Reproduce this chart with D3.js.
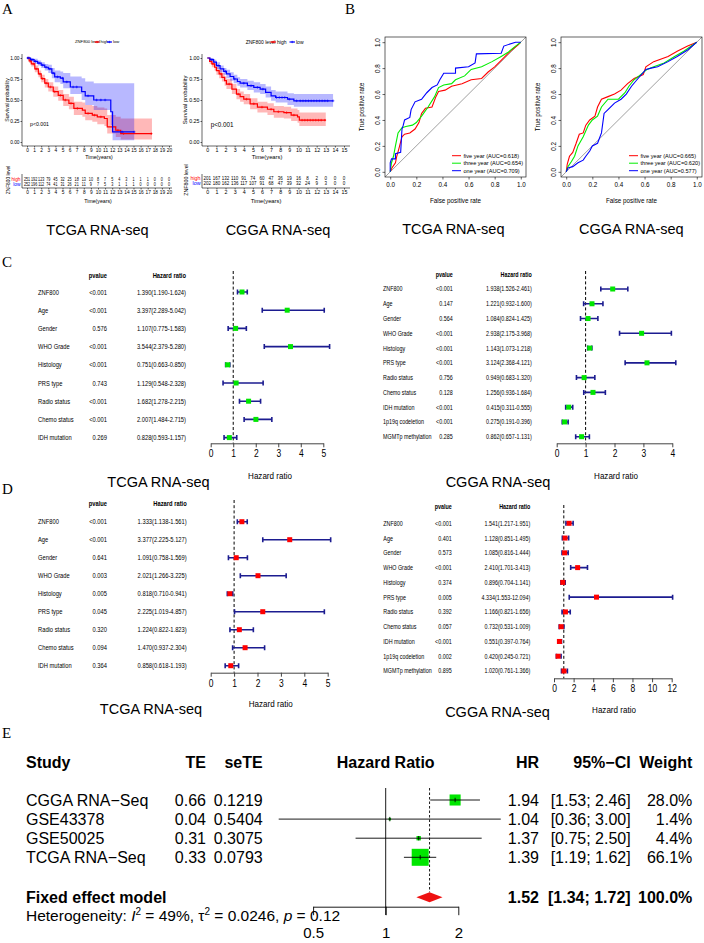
<!DOCTYPE html>
<html>
<head>
<meta charset="utf-8">
<script src="https://cdn.jsdelivr.net/npm/d3@7"></script>
<style>
  body { margin: 0; background: #fff; }
  svg { display: block; font-family: "Liberation Sans", Arial, sans-serif; }
  .serif { font-family: "Liberation Serif", "Times New Roman", serif; }
</style>
</head>
<body>
<svg id="fig" width="704" height="943"></svg>
<script>
// ---- Panel A: Kaplan-Meier steps [time, surv, lower, upper] ----
var TCGA_HIGH = [
  [0, 1, 1, 1], [0.3, 0.965, 0.94, 0.99], [0.6, 0.93, 0.90, 0.96], [1.1, 0.87, 0.83, 0.91],
  [1.6, 0.81, 0.77, 0.85], [2, 0.755, 0.71, 0.80], [2.5, 0.70, 0.65, 0.75], [3, 0.655, 0.60, 0.71],
  [3.7, 0.60, 0.54, 0.66], [4.4, 0.555, 0.49, 0.62], [5.1, 0.50, 0.43, 0.57], [5.9, 0.46, 0.39, 0.54],
  [6.6, 0.40, 0.32, 0.48], [7.8, 0.38, 0.30, 0.47], [8.2, 0.34, 0.26, 0.44], [9.2, 0.32, 0.24, 0.43],
  [9.9, 0.30, 0.21, 0.41], [10.9, 0.28, 0.19, 0.40], [11.3, 0.18, 0.10, 0.32], [12.5, 0.14, 0.06, 0.30],
  [13.2, 0.10, 0.03, 0.28]
];
var TCGA_HIGH_END = 17.6;
var TCGA_HIGH_CENSOR = [0.2, 0.5, 0.9, 1.3, 1.8, 2.2, 2.7, 3.3, 3.9, 4.7, 5.4, 6.2, 7.1, 8.6, 9.5, 10.4, 12.8, 13.6, 17.5];

var TCGA_LOW = [
  [0, 1, 1, 1], [0.5, 0.98, 0.96, 1.0], [1, 0.96, 0.93, 0.99], [1.5, 0.94, 0.91, 0.97],
  [2, 0.915, 0.88, 0.95], [2.5, 0.89, 0.85, 0.93], [3, 0.87, 0.82, 0.92], [3.5, 0.82, 0.76, 0.88],
  [3.9, 0.775, 0.71, 0.85], [4.7, 0.76, 0.69, 0.84], [5.1, 0.715, 0.64, 0.82], [6.1, 0.655, 0.57, 0.78],
  [7.7, 0.60, 0.50, 0.76], [8.2, 0.55, 0.44, 0.72], [9.4, 0.50, 0.38, 0.70], [11.8, 0.36, 0.20, 0.70],
  [12.05, 0.12, 0.02, 0.70]
];
var TCGA_LOW_END = 15.1;
var TCGA_LOW_CENSOR = [0.1, 0.3, 0.7, 1.2, 1.7, 2.2, 2.7, 3.2, 3.7, 4.3, 5.0, 5.6, 6.5, 7.0, 8.6, 9.8, 10.4, 11.0, 13.4, 15.1];

var CGGA_HIGH = [
  [0, 1, 1, 1], [0.25, 0.96, 0.93, 0.99], [0.5, 0.93, 0.89, 0.96], [0.8, 0.89, 0.85, 0.93],
  [1, 0.85, 0.80, 0.89], [1.3, 0.81, 0.76, 0.86], [1.6, 0.77, 0.72, 0.82], [1.9, 0.73, 0.67, 0.78],
  [2.1, 0.69, 0.63, 0.75], [2.7, 0.63, 0.57, 0.69], [3.2, 0.57, 0.51, 0.63], [3.6, 0.54, 0.48, 0.60],
  [4, 0.51, 0.45, 0.57], [4.7, 0.455, 0.39, 0.52], [5.5, 0.415, 0.35, 0.48], [6.6, 0.39, 0.32, 0.46],
  [7.3, 0.36, 0.29, 0.43], [8.4, 0.35, 0.28, 0.42], [9.2, 0.32, 0.25, 0.40], [9.9, 0.30, 0.23, 0.38],
  [10.1, 0.26, 0.19, 0.35]
];
var CGGA_HIGH_END = 13;
var CGGA_HIGH_CENSOR = [0.6, 1.5, 2.4, 3.4, 4.3, 5.1, 6.0, 7.0, 7.8, 8.7, 9.5, 10.4, 10.7, 11.0, 11.3, 11.6, 11.9, 12.2, 12.5, 12.9];

var CGGA_LOW = [
  [0, 1, 1, 1], [0.3, 0.98, 0.96, 1.0], [0.7, 0.95, 0.92, 0.98], [1, 0.91, 0.87, 0.95],
  [1.4, 0.87, 0.83, 0.91], [1.8, 0.84, 0.80, 0.88], [2.1, 0.81, 0.76, 0.86], [2.5, 0.78, 0.73, 0.83],
  [2.9, 0.75, 0.70, 0.80], [3.3, 0.72, 0.67, 0.77], [3.6, 0.70, 0.65, 0.75], [4.4, 0.67, 0.62, 0.73],
  [5.1, 0.65, 0.59, 0.71], [5.8, 0.63, 0.57, 0.69], [6.4, 0.59, 0.53, 0.66], [7, 0.55, 0.49, 0.62],
  [7.5, 0.53, 0.47, 0.60], [8.8, 0.51, 0.44, 0.58], [9.5, 0.49, 0.42, 0.57]
];
var CGGA_LOW_END = 13.8;
var CGGA_LOW_CENSOR = [0.5, 1.2, 2.0, 3.0, 4.0, 4.8, 5.5, 6.1, 7.6, 7.9, 8.2, 8.5, 9.0, 9.8, 10.2, 10.5, 10.8,
  11.1, 11.4, 11.7, 12.0, 12.3, 12.6, 12.9, 13.2, 13.8];

// Number at risk per year
var TCGA_RISK_HIGH = [251, 192, 123, 79, 45, 32, 25, 18, 13, 10, 8, 7, 5, 4, 3, 1, 1, 1, 0, 0, 0];
var TCGA_RISK_LOW = [252, 196, 112, 74, 41, 31, 26, 21, 11, 9, 7, 5, 3, 1, 1, 1, 0, 0, 0, 0, 0];
var CGGA_RISK_HIGH = [201, 167, 132, 110, 91, 74, 60, 47, 36, 19, 16, 8, 2, 0, 0, 0];
var CGGA_RISK_LOW = [202, 180, 162, 136, 117, 107, 91, 68, 47, 39, 32, 24, 9, 3, 0, 0];
var KM_YTICKS = [0, 0.25, 0.5, 0.75, 1];

// ---- Panel B: ROC curves [fpr, tpr] ----
var ROC_TCGA_FIVE = [[0, 0], [0.013, 0.03], [0.04, 0.07], [0.05, 0.12], [0.064, 0.17], [0.09, 0.27], [0.11, 0.29],
  [0.15, 0.3], [0.19, 0.33], [0.22, 0.38], [0.24, 0.45], [0.27, 0.49], [0.32, 0.5], [0.35, 0.58], [0.37, 0.62],
  [0.42, 0.63], [0.47, 0.66], [0.55, 0.68], [0.62, 0.71], [0.7, 0.72], [0.75, 0.77], [0.8, 0.81], [0.85, 0.86],
  [0.93, 0.94], [0.98, 0.98], [1, 1]];
var ROC_TCGA_THREE = [[0, 0], [0.01, 0.07], [0.025, 0.12], [0.04, 0.2], [0.06, 0.3], [0.09, 0.34], [0.12, 0.35],
  [0.17, 0.36], [0.2, 0.38], [0.24, 0.43], [0.29, 0.5], [0.34, 0.58], [0.37, 0.65], [0.41, 0.67], [0.47, 0.68],
  [0.5, 0.71], [0.57, 0.74], [0.62, 0.79], [0.7, 0.81], [0.78, 0.85], [0.85, 0.89], [0.9, 0.92], [0.96, 0.97], [1, 1]];
var ROC_TCGA_ONE = [[0, 0], [0, 0.07], [0.01, 0.1], [0.04, 0.1], [0.04, 0.14], [0.08, 0.15], [0.09, 0.33],
  [0.1, 0.36], [0.11, 0.4], [0.15, 0.42], [0.16, 0.48], [0.19, 0.54], [0.24, 0.56], [0.28, 0.61], [0.32, 0.65],
  [0.36, 0.67], [0.38, 0.71], [0.41, 0.76], [0.5, 0.76], [0.5, 0.8], [0.6, 0.81], [0.65, 0.84], [0.66, 0.91],
  [0.85, 0.915], [0.87, 0.97], [0.96, 1.0], [1, 1]];
var ROC_CGGA_FIVE = [[0, 0], [0.008, 0.06], [0.025, 0.12], [0.05, 0.15], [0.076, 0.22], [0.1, 0.29], [0.13, 0.3],
  [0.15, 0.36], [0.18, 0.4], [0.22, 0.43], [0.24, 0.5], [0.27, 0.56], [0.32, 0.58], [0.37, 0.6], [0.42, 0.63],
  [0.47, 0.68], [0.52, 0.72], [0.59, 0.75], [0.61, 0.81], [0.67, 0.85], [0.78, 0.89], [0.85, 0.93], [0.93, 0.97], [1, 1]];
var ROC_CGGA_THREE = [[0, 0], [0.013, 0.04], [0.04, 0.08], [0.064, 0.12], [0.09, 0.2], [0.13, 0.27], [0.17, 0.36],
  [0.2, 0.4], [0.24, 0.43], [0.27, 0.5], [0.32, 0.56], [0.4, 0.56], [0.45, 0.61], [0.48, 0.66], [0.52, 0.71],
  [0.57, 0.75], [0.62, 0.79], [0.67, 0.81], [0.75, 0.84], [0.83, 0.89], [0.9, 0.93], [1, 1]];
var ROC_CGGA_ONE = [[0, 0], [0.013, 0.03], [0.05, 0.04], [0.09, 0.07], [0.13, 0.09], [0.15, 0.12], [0.18, 0.16],
  [0.2, 0.2], [0.24, 0.22], [0.27, 0.3], [0.29, 0.45], [0.32, 0.48], [0.37, 0.53], [0.42, 0.56], [0.46, 0.6],
  [0.5, 0.66], [0.55, 0.72], [0.61, 0.79], [0.65, 0.8], [0.7, 0.81], [0.78, 0.85], [0.85, 0.89], [0.93, 0.94], [1, 1]];
var ROC_LABELS_TCGA = ['five year (AUC=0.618)', 'three year (AUC=0.654)', 'one year (AUC=0.709)'];
var ROC_LABELS_CGGA = ['five year (AUC=0.665)', 'three year (AUC=0.620)', 'one year (AUC=0.577)'];
var ROC_TICKS = [0, 0.2, 0.4, 0.6, 0.8, 1];

// ---- Panels C/D: Cox regression ----
var VARS_TCGA = ['ZNF800', 'Age', 'Gender', 'WHO Grade', 'Histology', 'PRS type', 'Radio status', 'Chemo status', 'IDH mutation'];
var VARS_CGGA = ['ZNF800', 'Age', 'Gender', 'WHO Grade', 'Histology', 'PRS type', 'Radio status', 'Chemo status',
  'IDH mutation', '1p19q codeletion', 'MGMTp methylation'];

var UNI_TCGA_P = ['<0.001', '<0.001', '0.576', '<0.001', '<0.001', '0.743', '<0.001', '<0.001', '0.269'];
var UNI_TCGA_HR = [1.390, 3.397, 1.107, 3.544, 0.751, 1.129, 1.682, 2.007, 0.828];
var UNI_TCGA_LO = [1.190, 2.289, 0.775, 2.379, 0.663, 0.548, 1.278, 1.484, 0.593];
var UNI_TCGA_HI = [1.624, 5.042, 1.583, 5.280, 0.850, 2.328, 2.215, 2.715, 1.157];

var UNI_CGGA_P = ['<0.001', '0.147', '0.564', '<0.001', '<0.001', '<0.001', '0.756', '0.128', '<0.001', '<0.001', '0.285'];
var UNI_CGGA_HR = [1.938, 1.221, 1.084, 2.938, 1.143, 3.124, 0.949, 1.256, 0.415, 0.275, 0.862];
var UNI_CGGA_LO = [1.526, 0.932, 0.824, 2.175, 1.073, 2.368, 0.683, 0.936, 0.311, 0.191, 0.657];
var UNI_CGGA_HI = [2.461, 1.600, 1.425, 3.968, 1.218, 4.121, 1.320, 1.684, 0.555, 0.396, 1.131];

var MULTI_TCGA_P = ['<0.001', '<0.001', '0.641', '0.003', '0.005', '0.045', '0.320', '0.094', '0.364'];
var MULTI_TCGA_HR = [1.333, 3.377, 1.091, 2.021, 0.818, 2.225, 1.224, 1.470, 0.858];
var MULTI_TCGA_LO = [1.138, 2.225, 0.758, 1.266, 0.710, 1.019, 0.822, 0.937, 0.618];
var MULTI_TCGA_HI = [1.561, 5.127, 1.569, 3.225, 0.941, 4.857, 1.823, 2.304, 1.193];

var MULTI_CGGA_P = ['<0.001', '0.401', '0.573', '<0.001', '0.374', '0.005', '0.392', '0.057', '<0.001', '0.002', '0.895'];
var MULTI_CGGA_HR = [1.541, 1.128, 1.085, 2.410, 0.896, 4.334, 1.166, 0.732, 0.551, 0.420, 1.020];
var MULTI_CGGA_LO = [1.217, 0.851, 0.816, 1.701, 0.704, 1.553, 0.821, 0.531, 0.397, 0.245, 0.761];
var MULTI_CGGA_HI = [1.951, 1.495, 1.444, 3.413, 1.141, 12.094, 1.656, 1.009, 0.764, 0.721, 1.366];

// ---- Panel E: meta-analysis ----
var META_STUDIES = ['CGGA RNA\u2212Seq', 'GSE43378', 'GSE50025', 'TCGA RNA\u2212Seq'];
var META_TE = ['0.66', '0.04', '0.31', '0.33'];
var META_SETE = ['0.1219', '0.5404', '0.3075', '0.0793'];
var META_HR = [1.94, 1.04, 1.37, 1.39];
var META_LO = [1.53, 0.36, 0.75, 1.19];
var META_HI = [2.46, 3.00, 2.50, 1.62];
var META_WEIGHT = [28.0, 1.4, 4.4, 66.1];
var FIXED = { hr: 1.52, lo: 1.34, hi: 1.72, weight: 100.0 };
var META_TICKS = [0.5, 1, 2];

var RED = '#ff0000', BLUE = '#0000ff', GREEN = '#00e600';
var NARROW = 0.77;

var svg = d3.select('#fig');
svg.append('rect').attr('width', 704).attr('height', 943).attr('fill', '#fff');

/**
 * Text helper: y is the visual centre of the glyphs.
 * o.narrow squeezes the text horizontally around its anchor.
 */
function txt(g, x, y, str, o) {
  o = o || {};
  var t = g.append('text')
    .attr('x', x).attr('y', y)
    .attr('dy', '0.35em')
    .attr('text-anchor', o.anchor || 'start')
    .attr('fill', o.color || '#000')
    .style('font-size', (o.size || 6) + 'px')
    .text(str);
  if (o.weight) t.style('font-weight', o.weight);
  if (o.cls) t.attr('class', o.cls);
  if (o.rotate) t.attr('transform', 'rotate(' + o.rotate + ',' + x + ',' + y + ')');
  if (o.narrow) {
    t.attr('x', 0).attr('y', 0)
      .attr('transform', 'translate(' + x + ',' + y + ') scale(' + o.narrow + ',1)');
  }
  return t;
}

function stepAt(steps, t) {
  var v = steps[0][1];
  steps.forEach(function (s) { if (s[0] <= t) v = s[1]; });
  return v;
}

function styleAxis(sel, size) {
  sel.select('.domain').remove();
  sel.selectAll('text').style('font-size', size + 'px').attr('fill', '#000');
  sel.selectAll('line').attr('stroke', '#000').attr('stroke-width', 0.6);
}

/**
 * Kaplan-Meier panel with band, censor marks, legend and risk table.
 */
function drawKM(o) {
  var g = svg.append('g');
  var x = d3.scaleLinear().domain([0, o.xMax]).range(o.xRange);
  var y = d3.scaleLinear().domain([0, 1]).range([142, 58]);

  var area = d3.area().curve(d3.curveStepAfter)
    .x(function (d) { return x(d[0]); })
    .y0(function (d) { return y(d[2]); })
    .y1(function (d) { return y(d[3]); });
  var line = d3.line().curve(d3.curveStepAfter)
    .x(function (d) { return x(d[0]); })
    .y(function (d) { return y(d[1]); });

  o.curves.forEach(function (c) {
    var last = c.steps[c.steps.length - 1];
    c.pts = c.steps.concat([[c.end, last[1], last[2], last[3]]]);
    g.append('path').datum(c.pts).attr('d', area)
      .attr('fill', c.color).attr('fill-opacity', 0.28);
  });
  o.curves.forEach(function (c) {
    g.append('path').datum(c.pts).attr('d', line)
      .attr('fill', 'none').attr('stroke', c.color).attr('stroke-width', 1.2);
    g.selectAll(null).data(c.censor).enter().append('path')
      .attr('transform', function (t) { return 'translate(' + x(t) + ',' + y(stepAt(c.steps, t)) + ')'; })
      .attr('d', 'M-1.3,0h2.6M0,-1.3v2.6')
      .attr('stroke', c.color).attr('stroke-width', 0.6);
  });

  // axes
  var ax = g.append('g').attr('transform', 'translate(0,146)')
    .call(d3.axisBottom(x).tickValues(d3.range(0, o.xMax + 1)).tickSize(1.5).tickPadding(1));
  styleAxis(ax, o.tick);
  var ay = g.append('g').attr('transform', 'translate(' + o.axisX + ',0)')
    .call(d3.axisLeft(y).tickValues(KM_YTICKS).tickFormat(d3.format('.2f')).tickSize(1.5).tickPadding(1));
  styleAxis(ay, o.tick);
  g.append('path').attr('d', 'M' + o.axisX + ',54V146H' + o.xEnd)
    .attr('fill', 'none').attr('stroke', '#000').attr('stroke-width', 0.6);

  txt(g, o.titleX, 157, 'Time(years)', { anchor: 'middle', size: o.title });
  txt(g, o.ylabX, 100, 'Survival probability', { anchor: 'middle', size: o.title, rotate: -90 });
  txt(g, o.pX, 124.3, 'p<0.001', { size: o.pSize });

  // legend
  var lg = o.legend;
  txt(g, lg.x, 42, 'ZNF800 level', { size: lg.size });
  [[lg.r, 'high', RED], [lg.b, 'low', BLUE]].forEach(function (k) {
    g.append('path').attr('d', 'M' + k[0] + ',42h' + lg.seg)
      .attr('stroke', k[2]).attr('stroke-width', 1.2);
    g.append('path').attr('d', 'M' + (k[0] + lg.seg / 2 - 1.2) + ',42h2.4M' + (k[0] + lg.seg / 2) + ',40.8v2.4')
      .attr('stroke', k[2]).attr('stroke-width', 0.6);
    txt(g, k[0] + lg.seg + 1, 42, k[1], { size: lg.size });
  });

  // risk table
  var rows = [[o.riskHigh, 'high', RED, o.rowY[0]], [o.riskLow, 'low', BLUE, o.rowY[1]]];
  rows.forEach(function (r) {
    r[0].forEach(function (d, i) {
      txt(g, x(i), r[3], d, { anchor: 'middle', size: o.tick, narrow: o.riskSqueeze });
    });
    txt(g, o.axisX - 1.5, r[3], r[1], { anchor: 'end', size: o.tick, color: r[2] });
  });
  var at = g.append('g').attr('transform', 'translate(0,188)')
    .call(d3.axisBottom(x).tickValues(d3.range(0, o.xMax + 1)).tickSize(1.5).tickPadding(1));
  styleAxis(at, o.tick);
  g.append('path').attr('d', 'M' + o.axisX + ',174V188H' + o.xEnd)
    .attr('fill', 'none').attr('stroke', '#000').attr('stroke-width', 0.6);
  txt(g, o.titleX - 1, 201.2, 'Time(years)', { anchor: 'middle', size: o.title });
  txt(g, o.ylabX + 1, 180, 'ZNF800 level', { anchor: 'middle', size: o.tick, rotate: -90 });

  txt(g, o.capX, 229.5, o.caption, { anchor: 'middle', size: 14.5 });
}

/**
 * ROC panel in base-R style (box, rotated y labels, legend without frame).
 */
function drawROC(o) {
  var g = svg.append('g');
  var x = d3.scaleLinear().domain([-0.04, 1.04]).range([o.left, o.right]);
  var y = d3.scaleLinear().domain([-0.04, 1.04]).range([177, 37]);

  g.append('line')
    .attr('x1', x(-0.04)).attr('y1', y(-0.04)).attr('x2', x(1.04)).attr('y2', y(1.04))
    .attr('stroke', '#777').attr('stroke-width', 0.7);

  var line = d3.line().x(function (d) { return x(d[0]); }).y(function (d) { return y(d[1]); });
  var colors = [RED, '#00ee00', BLUE];
  o.curves.forEach(function (c, i) {
    g.append('path').datum(c).attr('d', line)
      .attr('fill', 'none').attr('stroke', colors[i]).attr('stroke-width', 1.1);
  });

  g.append('rect').attr('x', o.left).attr('y', 37)
    .attr('width', o.right - o.left).attr('height', 140)
    .attr('fill', 'none').attr('stroke', '#222').attr('stroke-width', 0.7);

  var ax = g.append('g').attr('transform', 'translate(0,177)')
    .call(d3.axisBottom(x).tickValues(ROC_TICKS).tickFormat(d3.format('.1f')).tickSize(2.5).tickPadding(3));
  styleAxis(ax, 6.3);
  var ay = g.append('g').attr('transform', 'translate(' + o.left + ',0)')
    .call(d3.axisLeft(y).tickValues(ROC_TICKS).tickFormat(d3.format('.1f')).tickSize(2.5));
  styleAxis(ay, 6.3);
  ay.selectAll('text')
    .attr('x', 0).attr('y', -5).attr('dy', 0)
    .attr('text-anchor', 'middle')
    .attr('transform', 'rotate(-90)');

  txt(g, (o.left + o.right) / 2, 201, 'False positive rate', { anchor: 'middle', size: 6.3 });
  txt(g, o.left - 23.5, 107, 'True positive rate', { anchor: 'middle', size: 6.3, rotate: -90 });

  o.labels.forEach(function (lab, i) {
    var yy = 155.7 + i * 7.5;
    g.append('line').attr('x1', o.legX).attr('x2', o.legX + 9).attr('y1', yy).attr('y2', yy)
      .attr('stroke', colors[i]).attr('stroke-width', 1);
    txt(g, o.legX + 11.5, yy, lab, { size: 5.6 });
  });

  txt(g, o.capX, 228.5, o.caption, { anchor: 'middle', size: 14.5 });
}

/**
 * Forest plot of Cox regression results with table on the left.
 */
function drawForest(o) {
  var g = svg.append('g');
  var x = d3.scaleLinear().domain([0, o.xMax]).range(o.xRange);
  var y = d3.scalePoint().domain(o.names).range(o.rowRange);
  var sq = 5;

  txt(g, o.pX, o.headY, 'pvalue', { anchor: 'end', size: o.size, weight: 'bold', narrow: NARROW });
  txt(g, o.hrX, o.headY, 'Hazard ratio', { anchor: 'end', size: o.size, weight: 'bold', narrow: NARROW });

  o.names.forEach(function (n, i) {
    var yy = y(n);
    txt(g, o.nameX, yy, n, { size: o.size, narrow: NARROW });
    txt(g, o.pX, yy, o.p[i], { anchor: 'end', size: o.size, narrow: NARROW });
    txt(g, o.hrX, yy, o.hr[i].toFixed(3) + '(' + o.lo[i].toFixed(3) + '-' + o.hi[i].toFixed(3) + ')',
      { anchor: 'end', size: o.size, narrow: NARROW });
  });

  g.append('line').attr('x1', x(1)).attr('x2', x(1)).attr('y1', o.dashTop).attr('y2', o.axisY)
    .attr('stroke', '#000').attr('stroke-width', 1).attr('stroke-dasharray', '3,2.2');

  var rows = g.selectAll('.ci').data(o.names).enter().append('g').attr('class', 'ci');
  rows.append('path')
    .attr('d', function (n, i) {
      var yy = y(n), a = x(o.lo[i]), b = x(o.hi[i]);
      return 'M' + a + ',' + yy + 'H' + b + 'M' + a + ',' + (yy - 2.5) + 'v5M' + b + ',' + (yy - 2.5) + 'v5';
    })
    .attr('fill', 'none').attr('stroke', '#1c1c90').attr('stroke-width', 1.6);
  rows.append('rect')
    .attr('x', function (n, i) { return x(o.hr[i]) - sq / 2; })
    .attr('y', function (n) { return y(n) - sq / 2; })
    .attr('width', sq).attr('height', sq)
    .attr('fill', o.color);

  var ax = g.append('g').attr('transform', 'translate(0,' + o.axisY + ')')
    .call(d3.axisBottom(x).ticks(o.tickN).tickSize(4).tickPadding(3).tickSizeOuter(0));
  ax.select('.domain').attr('stroke', '#444').attr('stroke-width', 1);
  ax.selectAll('line').attr('stroke', '#444').attr('stroke-width', 1);
  ax.selectAll('.tick text').style('font-size', '10px').attr('fill', '#000')
    .attr('transform', 'scale(0.85,1)');

  txt(g, o.titleX, o.titleY, 'Hazard ratio', { anchor: 'middle', size: 9.5, narrow: 0.85 });
  txt(g, o.capX, o.capY, o.caption, { anchor: 'middle', size: 14.5 });
}

/**
 * Meta-analysis forest plot (panel E).
 */
function drawMeta() {
  var g = svg.append('g').style('font-size', '16px');
  var x = d3.scaleLog().base(2).domain([0.5, 2]).range([313.1, 458.3]);
  var y = d3.scalePoint().domain(META_STUDIES).range([800, 857.3]);
  var side = d3.scaleSqrt().domain([0, d3.max(META_WEIGHT)]).range([0, 17]);
  var fixedY = 897.3, headY = 762;
  var fmt = d3.format('.2f');

  txt(g, 26, headY, 'Study', { size: 16, weight: 'bold' });
  txt(g, 206, headY, 'TE', { size: 16, weight: 'bold', anchor: 'end' });
  txt(g, 262.7, headY, 'seTE', { size: 16, weight: 'bold', anchor: 'end' });
  txt(g, x(1), headY, 'Hazard Ratio', { size: 16, weight: 'bold', anchor: 'middle' });
  txt(g, 539, headY, 'HR', { size: 16, weight: 'bold', anchor: 'end' });
  txt(g, 630.7, headY, '95%\u2212CI', { size: 16, weight: 'bold', anchor: 'end' });
  txt(g, 692.3, headY, 'Weight', { size: 16, weight: 'bold', anchor: 'end' });

  // reference lines
  g.append('line').attr('x1', x(1)).attr('x2', x(1)).attr('y1', 788).attr('y2', 915)
    .attr('stroke', '#000').attr('stroke-width', 0.9);
  g.append('line').attr('x1', x(FIXED.hr)).attr('x2', x(FIXED.hr)).attr('y1', 788).attr('y2', fixedY - 5)
    .attr('stroke', '#000').attr('stroke-width', 0.9).attr('stroke-dasharray', '2.5,2');

  META_STUDIES.forEach(function (s, i) {
    var yy = y(s), w = side(META_WEIGHT[i]);
    txt(g, 26, yy, s, { size: 16 });
    txt(g, 206, yy, META_TE[i], { size: 16, anchor: 'end' });
    txt(g, 262.7, yy, META_SETE[i], { size: 16, anchor: 'end' });
    g.append('rect').attr('x', x(META_HR[i]) - w / 2).attr('y', yy - w / 2)
      .attr('width', w).attr('height', w).attr('fill', GREEN);
    g.append('path')
      .attr('d', 'M' + x(META_LO[i]) + ',' + yy + 'H' + x(META_HI[i]) +
        'M' + x(META_HR[i]) + ',' + (yy - 2.2) + 'v4.4')
      .attr('stroke', '#000').attr('stroke-width', 0.9);
    txt(g, 539, yy, fmt(META_HR[i]), { size: 16, anchor: 'end' });
    txt(g, 630.7, yy, '[' + fmt(META_LO[i]) + '; ' + fmt(META_HI[i]) + ']', { size: 16, anchor: 'end' });
    txt(g, 692.3, yy, META_WEIGHT[i].toFixed(1) + '%', { size: 16, anchor: 'end' });
  });

  // fixed effect diamond
  g.append('path')
    .attr('d', 'M' + x(FIXED.lo) + ',' + fixedY + 'L' + x(FIXED.hr) + ',' + (fixedY - 5) +
      'L' + x(FIXED.hi) + ',' + fixedY + 'L' + x(FIXED.hr) + ',' + (fixedY + 5) + 'Z')
    .attr('fill', '#ee1111');
  txt(g, 26, fixedY, 'Fixed effect model', { size: 16, weight: 'bold' });
  txt(g, 539, fixedY, fmt(FIXED.hr), { size: 16, weight: 'bold', anchor: 'end' });
  txt(g, 630.7, fixedY, '[' + fmt(FIXED.lo) + '; ' + fmt(FIXED.hi) + ']', { size: 16, weight: 'bold', anchor: 'end' });
  txt(g, 692.3, fixedY, FIXED.weight.toFixed(1) + '%', { size: 16, weight: 'bold', anchor: 'end' });

  // heterogeneity line
  var h = g.append('text').attr('x', 26).attr('y', 916).attr('dy', '0.35em').style('font-size', '15.5px');
  h.append('tspan').text('Heterogeneity: ');
  h.append('tspan').style('font-style', 'italic').text('I');
  h.append('tspan').attr('dy', -6).style('font-size', '10px').text('2');
  h.append('tspan').attr('dy', 6).text(' = 49%, \u03c4');
  h.append('tspan').attr('dy', -6).style('font-size', '10px').text('2');
  h.append('tspan').attr('dy', 6).text(' = 0.0246, ');
  h.append('tspan').style('font-style', 'italic').text('p');
  h.append('tspan').text(' = 0.12');

  var ax = g.append('g').attr('transform', 'translate(0,906.7)')
    .call(d3.axisBottom(x).tickValues(META_TICKS).tickFormat(d3.format('')).tickSize(8.5).tickPadding(12.5).tickSizeOuter(0));
  ax.select('.domain').attr('stroke', '#000').attr('stroke-width', 0.9);
  ax.selectAll('line').attr('stroke', '#000').attr('stroke-width', 0.9);
  ax.selectAll('text').style('font-size', '15px').attr('fill', '#000');
}

// ---- Panel letters ----
[['A', 2, 8.5], ['B', 345, 9], ['C', 2, 262], ['D', 2, 489], ['E', 2, 733]].forEach(function (p) {
  txt(svg, p[1], p[2], p[0], { size: 15, cls: 'serif' });
});

drawKM({
  xMax: 20, xRange: [27, 169], axisX: 22, xEnd: 172, tick: 4.8, title: 5.2, pSize: 5.2, riskSqueeze: 0.78,
  titleX: 99, ylabX: 7, pX: 30, rowY: [179.3, 184.3], capX: 97.5, caption: 'TCGA RNA-seq',
  legend: { x: 75, r: 94.5, b: 107, seg: 5, size: 4.2 },
  riskHigh: TCGA_RISK_HIGH, riskLow: TCGA_RISK_LOW,
  curves: [
    { steps: TCGA_HIGH, end: TCGA_HIGH_END, censor: TCGA_HIGH_CENSOR, color: RED },
    { steps: TCGA_LOW, end: TCGA_LOW_END, censor: TCGA_LOW_CENSOR, color: BLUE }
  ]
});

drawKM({
  xMax: 15, xRange: [207.3, 344], axisX: 202, xEnd: 350, tick: 5.3, title: 5.8, pSize: 6.3, riskSqueeze: 0.85,
  titleX: 267, ylabX: 185, pX: 210.7, rowY: [178.3, 183.3], capX: 278, caption: 'CGGA RNA-seq',
  legend: { x: 245.7, r: 270.5, b: 289.5, seg: 5.5, size: 5 },
  riskHigh: CGGA_RISK_HIGH, riskLow: CGGA_RISK_LOW,
  curves: [
    { steps: CGGA_HIGH, end: CGGA_HIGH_END, censor: CGGA_HIGH_CENSOR, color: RED },
    { steps: CGGA_LOW, end: CGGA_LOW_END, censor: CGGA_LOW_CENSOR, color: BLUE }
  ]
});

drawROC({ left: 385, right: 526, legX: 452, capX: 453.3, caption: 'TCGA RNA-seq',
  curves: [ROC_TCGA_FIVE, ROC_TCGA_THREE, ROC_TCGA_ONE], labels: ROC_LABELS_TCGA });
drawROC({ left: 561, right: 702, legX: 629, capX: 631.3, caption: 'CGGA RNA-seq',
  curves: [ROC_CGGA_FIVE, ROC_CGGA_THREE, ROC_CGGA_ONE], labels: ROC_LABELS_CGGA });

drawForest({
  names: VARS_TCGA, p: UNI_TCGA_P, hr: UNI_TCGA_HR, lo: UNI_TCGA_LO, hi: UNI_TCGA_HI, color: GREEN,
  rowRange: [292, 437.6], nameX: 38, pX: 107, hrX: 186, headY: 275, size: 7.5,
  xMax: 5, xRange: [210.7, 323.3], tickN: 5, axisY: 443.3, dashTop: 271,
  titleX: 270, titleY: 475.7, capX: 158.5, capY: 481.7, caption: 'TCGA RNA-seq'
});
drawForest({
  names: VARS_CGGA, p: UNI_CGGA_P, hr: UNI_CGGA_HR, lo: UNI_CGGA_LO, hi: UNI_CGGA_HI, color: GREEN,
  rowRange: [289, 436.7], nameX: 383, pX: 452.7, hrX: 531.7, headY: 275, size: 7,
  xMax: 4, xRange: [556.7, 672.3], tickN: 4, axisY: 443.3, dashTop: 271,
  titleX: 616, titleY: 475.7, capX: 498, capY: 482, caption: 'CGGA RNA-seq'
});
drawForest({
  names: VARS_TCGA, p: MULTI_TCGA_P, hr: MULTI_TCGA_HR, lo: MULTI_TCGA_LO, hi: MULTI_TCGA_HI, color: RED,
  rowRange: [521.7, 665.7], nameX: 38, pX: 107, hrX: 186.7, headY: 503.3, size: 7.5,
  xMax: 5, xRange: [210.7, 327.7], tickN: 5, axisY: 672.7, dashTop: 500,
  titleX: 270.7, titleY: 704, capX: 151, capY: 709, caption: 'TCGA RNA-seq'
});
drawForest({
  names: VARS_CGGA, p: MULTI_CGGA_P, hr: MULTI_CGGA_HR, lo: MULTI_CGGA_LO, hi: MULTI_CGGA_HI, color: RED,
  rowRange: [523.3, 671], nameX: 383.3, pX: 451.7, hrX: 530.3, headY: 507, size: 7,
  xMax: 12, xRange: [554, 671.7], tickN: 6, axisY: 678.3, dashTop: 505,
  titleX: 614, titleY: 710, capX: 497.5, capY: 712, caption: 'CGGA RNA-seq'
});

drawMeta();
</script>
</body>
</html>
